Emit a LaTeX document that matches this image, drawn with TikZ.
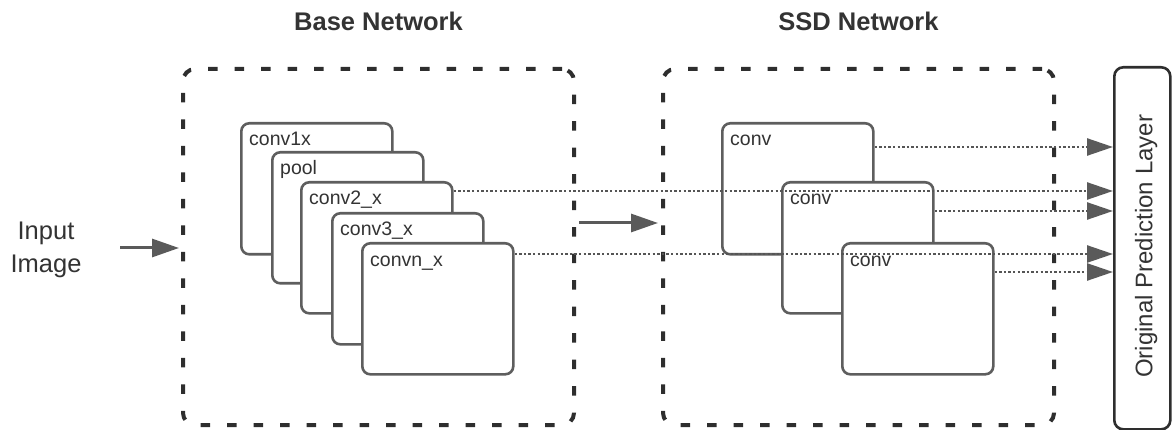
\documentclass[tikz,border=0pt]{standalone}
\usepackage{fontspec}
\setmainfont{Liberation Sans}
\usetikzlibrary{arrows.meta}
\definecolor{txt}{HTML}{333333}
\definecolor{edge}{HTML}{5E5E5E}
\definecolor{dots}{HTML}{555555}
\definecolor{frame}{HTML}{2E2E2E}
\definecolor{tipc}{HTML}{5A5A5A}
\begin{document}
\begin{tikzpicture}[x=1pt,y=-1pt,
  group/.style={draw=frame, line width=4pt, dash pattern=on 9.5pt off 17pt,
    rounded corners=12pt, inner sep=0pt, anchor=north west},
  layer/.style={draw=edge, fill=white, line width=2.6pt, rounded corners=8pt,
    minimum width=151pt, minimum height=131pt, inner sep=0pt, anchor=north west},
  lbl/.style={text=txt, font=\fontsize{19.5}{23}\selectfont, anchor=base west, inner sep=0pt},
  title/.style={text=txt, font=\bfseries\fontsize{25.5}{30}\selectfont, anchor=base, inner sep=0pt},
  arr/.style={draw=tipc, line width=3pt, -{Triangle[length=27pt,width=18pt]}},
  feed/.style={draw=dots, line width=2.5pt, dash pattern=on 2.3pt off 2.3pt,
    -{Triangle[length=26pt,width=17pt,color=tipc]}}
]
\useasboundingbox (0,0) rectangle (1172,430);

% dashed group frames
\node[group, minimum width=391pt, minimum height=356pt] (base) at (181,67) {};
\node[group, minimum width=391pt, minimum height=356pt] (ssd) at (661,67) {};

% titles
\coordinate (titlerow) at (0,31);
\node[title] (basetitle) at (base.north |- titlerow) {Base Network};
\node[title] (ssdtitle) at (ssd.north |- titlerow) {SSD Network};

% base network layers, back to front
\node[layer] (b1) at (240,122) {};
\node[lbl] (b1t) at ([xshift=9pt,yshift=-24pt]b1.north west) {conv1x};
\node[layer] (b2) at (271,151) {};
\node[lbl] (b2t) at ([xshift=9pt,yshift=-24pt]b2.north west) {pool};
\node[layer] (b3) at (300,181) {};
\node[lbl] (b3t) at ([xshift=9pt,yshift=-24pt]b3.north west) {conv2\_x};
\node[layer] (b4) at (331,212) {};
\node[lbl] (b4t) at ([xshift=9pt,yshift=-24pt]b4.north west) {conv3\_x};
\node[layer] (b5) at (361,242) {};
\node[lbl] (b5t) at ([xshift=9pt,yshift=-24pt]b5.north west) {convn\_x};

% SSD layers, back to front
\node[layer] (s1) at (721,122) {};
\node[lbl] (s1t) at ([xshift=9pt,yshift=-24pt]s1.north west) {conv};
\node[layer] (s2) at (781,181) {};
\node[lbl] (s2t) at ([xshift=9pt,yshift=-24pt]s2.north west) {conv};
\node[layer] (s3) at (841,242) {};
\node[lbl] (s3t) at ([xshift=9pt,yshift=-24pt]s3.north west) {conv};

% prediction layer
\node[draw=frame, line width=2.6pt, rounded corners=9pt, minimum width=56pt,
  minimum height=362pt, inner sep=0pt, anchor=north west] (pl) at (1113,66) {};
\node[text=txt, font=\fontsize{24}{28}\selectfont, rotate=90, anchor=base, inner sep=0pt]
  (pltext) at ([xshift=10pt,yshift=2pt]pl.center) {Original Prediction Layer};

% feature maps fed to the prediction layer
\draw[feed] ([yshift=-10pt]b3.north east) -- ([yshift=-10pt]b3.north east -| pl.west);
\draw[feed] ([yshift=-12pt]b5.north east) -- ([yshift=-12pt]b5.north east -| pl.west);
\draw[feed] ([yshift=-25pt]s1.north east) -- ([yshift=-25pt]s1.north east -| pl.west);
\draw[feed] ([yshift=-30pt]s2.north east) -- ([yshift=-30pt]s2.north east -| pl.west);
\draw[feed] ([yshift=-30pt]s3.north east) -- ([yshift=-30pt]s3.north east -| pl.west);

% input
\node[text=txt, font=\fontsize{25.5}{33}\selectfont, align=center, inner sep=0pt]
  (input) at (46,250) {Input\\Image};
\coordinate (inTail) at (120,248);
\draw[arr, shorten >=2pt] (inTail) -- (inTail -| base.west);

% base network to SSD network
\coordinate (midrow) at (0,223);
\draw[arr, shorten <=3pt, shorten >=3pt] (base.east |- midrow) -- (ssd.west |- midrow);
\end{tikzpicture}
\end{document}
